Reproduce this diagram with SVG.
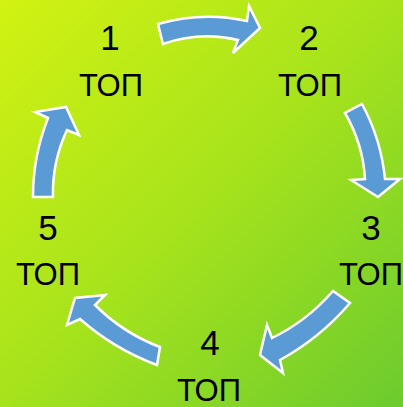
<svg xmlns="http://www.w3.org/2000/svg" width="403" height="407" viewBox="0 0 403 407">
<defs>
<linearGradient id="bg" x1="0" y1="0" x2="403" y2="407" gradientUnits="userSpaceOnUse">
<stop offset="0" stop-color="#D2F212"/>
<stop offset="0.5" stop-color="#A6E31C"/>
<stop offset="1" stop-color="#6CCB2E"/>
</linearGradient>
</defs>
<style>
.arrow{fill:#5B9BD5;stroke:#FFFFFF;stroke-width:2.5;stroke-linejoin:miter}
.num{font-family:"Liberation Sans",Arial,sans-serif;font-size:35px;fill:#000;text-anchor:middle}
.lbl{font-family:"Liberation Sans",Arial,sans-serif;font-size:31px;fill:#000;text-anchor:middle}
</style>
<rect width="403" height="407" fill="url(#bg)"/>
<g id="connectors">
<path class="arrow" d="M158,24 Q203,11 247,21 L249,6 L260,28 L233,53 L238,40 Q200,31 163,44 Z"/>
<path class="arrow" d="M362,104 Q381,139 385,179 L400,179 L378,197 L351,180 L365,179 Q363,144 345,113 Z"/>
<path class="arrow" d="M350,303 Q320,338 280,360 L283,373 L260,355 L267,325 L272,338 Q307,321 333,291 Z"/>
<path class="arrow" d="M157,365 Q114,349 80,319 L67,325 L75,298 L105,295 L95,305 Q123,333 160,347 Z"/>
<path class="arrow" d="M33,197 Q33,156 48,118 L35,112 L66,107 L79,135 L67,130 Q52,162 53,197 Z"/>
</g>
<g id="node1"><text class="num" x="110" y="50">1</text><text class="lbl" x="111" y="96">ТОП</text></g>
<g id="node2"><text class="num" x="309" y="50">2</text><text class="lbl" x="310" y="96">ТОП</text></g>
<g id="node3"><text class="num" x="371" y="240">3</text><text class="lbl" x="371" y="285">ТОП</text></g>
<g id="node4"><text class="num" x="210" y="355">4</text><text class="lbl" x="209" y="401">ТОП</text></g>
<g id="node5"><text class="num" x="48" y="240">5</text><text class="lbl" x="48" y="285">ТОП</text></g>
</svg>
